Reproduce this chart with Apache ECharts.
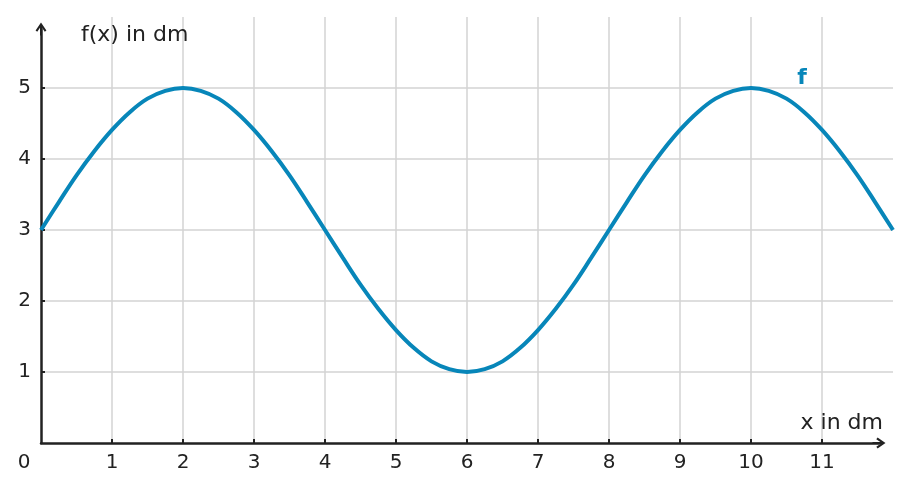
<!DOCTYPE html>
<html><head><meta charset="utf-8">
<script src="https://cdn.jsdelivr.net/npm/echarts@6/dist/echarts.min.js"></script>
<style>html,body{margin:0;padding:0;background:#fff}#c{width:910px;height:491px}</style>
</head><body><div id="c"></div>
<script>
// Values
const xValues = [0,0.25,0.5,0.75,1,1.25,1.5,1.75,2,2.25,2.5,2.75,3,3.25,3.5,3.75,4,4.25,4.5,4.75,5,5.25,5.5,5.75,6,
                 6.25,6.5,6.75,7,7.25,7.5,7.75,8,8.25,8.5,8.75,9,9.25,9.5,9.75,10,10.25,10.5,10.75,11,11.25,11.5,11.75,12];
const fValues = [3,3.39,3.77,4.11,4.41,4.66,4.85,4.96,5,4.96,4.85,4.66,4.41,4.11,3.77,3.39,3,2.61,2.23,1.89,1.59,1.34,1.15,1.04,1,
                 1.04,1.15,1.34,1.59,1.89,2.23,2.61,3,3.39,3.77,4.11,4.41,4.66,4.85,4.96,5,4.96,4.85,4.66,4.41,4.11,3.77,3.39,3];
const xTicks = [1,2,3,4,5,6,7,8,9,10,11];
const xTickLabels = ['1','2','3','4','5','6','7','8','9','10','11'];
const yTicks = [1,2,3,4,5];
const yTickLabels = ['1','2','3','4','5'];
const originLabel = '0';
const seriesName = 'f';
const xName = 'x in dm';
const yName = 'f(x) in dm';

const FONT = 'DejaVu Sans';
const blue = '#0786b9';
const axisColor = '#222';
const gridColor = '#d3d3d3';
const arrowPath = 'path://M5,0 L10,7.3 L8.5,8.5 L5,3.4 L1.5,8.5 L0,7.3 Z M4.1,2 L5.9,2 L5.9,12 L4.1,12 Z';

const chart = echarts.init(document.getElementById('c'), null, {renderer:'canvas'});
chart.setOption({
  animation:false,
  textStyle:{fontFamily:FONT},
  title:[
    {text:yName, left:81, top:24, padding:0, textStyle:{fontFamily:FONT,fontWeight:'normal',fontSize:22,color:axisColor}},
    {text:xName, right:27, top:412, padding:0, textStyle:{fontFamily:FONT,fontWeight:'normal',fontSize:22,color:axisColor}}
  ],
  grid:[
    {left:41, right:17, top:17, bottom:48},
    {left:41, right:31, top:29, bottom:48}
  ],
  xAxis:[
    {type:'value', gridIndex:0, min:0, max:12, interval:1,
     axisLine:{show:false},
     axisTick:{show:true, inside:true, length:4, customValues:xTicks, lineStyle:{color:axisColor,width:2}},
     splitLine:{show:true, showMinLine:true, showMaxLine:true, lineStyle:{color:gridColor,width:1.5}},
     axisLabel:{margin:10, fontSize:20, color:axisColor, fontFamily:FONT, customValues:[0].concat(xTicks),
       formatter:function(v){ if(v===0) return '{z|'+originLabel+'}'; const i=xTicks.indexOf(v); return i>=0?xTickLabels[i]:''; },
       rich:{z:{fontSize:20, color:axisColor, fontFamily:FONT, padding:[0,34,0,0]}}}},
    {type:'value', gridIndex:1, min:0, max:1, axisLine:{show:true, symbol:['none',arrowPath], symbolSize:[13,13], lineStyle:{color:axisColor,width:2.5}},
     axisTick:{show:false}, axisLabel:{show:false}, splitLine:{show:false}}
  ],
  yAxis:[
    {type:'value', gridIndex:0, min:0, max:6, interval:1,
     axisLine:{show:false},
     axisTick:{show:true, inside:true, length:4, customValues:yTicks, lineStyle:{color:axisColor,width:2}},
     splitLine:{show:true, showMinLine:true, showMaxLine:true, lineStyle:{color:gridColor,width:1.5}},
     axisLabel:{margin:10, fontSize:20, color:axisColor, fontFamily:FONT, customValues:yTicks,
       formatter:function(v){ const i=yTicks.indexOf(v); return i>=0?yTickLabels[i]:''; }}},
    {type:'value', gridIndex:1, min:0, max:1, axisLine:{show:true, symbol:['none',arrowPath], symbolSize:[13,13], lineStyle:{color:axisColor,width:2.5}},
     axisTick:{show:false}, axisLabel:{show:false}, splitLine:{show:false}}
  ],
  series:[{
    name:seriesName, type:'line', xAxisIndex:0, yAxisIndex:0,
    data:xValues.map((x,i)=>[x,fValues[i]]),
    smooth:0.4, showSymbol:false, symbol:'none',
    lineStyle:{color:blue, width:4}, z:5,
    markPoint:{symbol:'circle', symbolSize:1, itemStyle:{color:'rgba(0,0,0,0)'},
      data:[{coord:[10.72,5.13], value:1}],
      label:{show:true, position:'inside', formatter:seriesName, color:blue, fontWeight:'bold', fontSize:22, fontFamily:FONT}}
  }]
});
</script></body></html>
